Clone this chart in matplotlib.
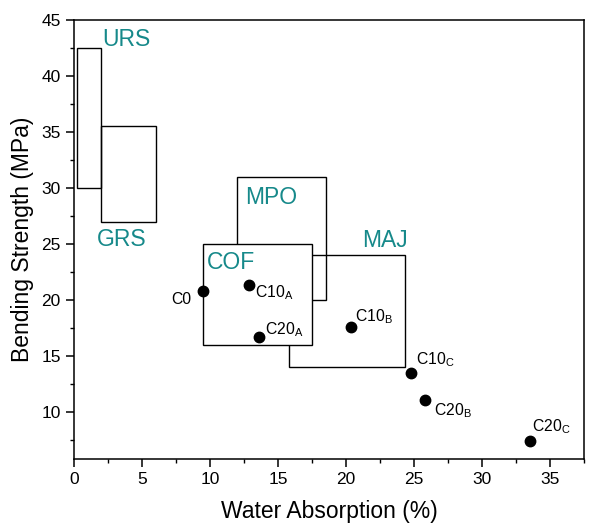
import matplotlib
matplotlib.use('Agg')
import matplotlib.pyplot as plt
from matplotlib.patches import Rectangle
from matplotlib.ticker import MultipleLocator

plt.rcParams['font.family'] = ['Liberation Sans', 'DejaVu Sans']
plt.rcParams['mathtext.fontset'] = 'custom'
plt.rcParams['mathtext.rm'] = 'Liberation Sans'

# Composite samples: water absorption (%) vs bending strength (MPa)
sample_names = ['C0', r'C10$_\mathregular{A}$', r'C20$_\mathregular{A}$', r'C10$_\mathregular{B}$',
                r'C10$_\mathregular{C}$', r'C20$_\mathregular{B}$', r'C20$_\mathregular{C}$']
water_abs = [9.5, 12.9, 13.6, 20.4, 24.75, 25.8, 33.5]
bend_str = [20.8, 21.3, 16.7, 17.6, 13.5, 11.1, 7.4]

# Reference material ranges: (x_min, x_max) and (y_min, y_max)
ref_names = ['URS', 'GRS', 'MPO', 'MAJ', 'COF']
ref_wa = [(0.25, 2.0), (2.0, 6.0), (12.0, 18.5), (15.8, 24.3), (9.5, 17.5)]
ref_bs = [(30.0, 42.5), (27.0, 35.5), (20.0, 31.0), (14.0, 24.0), (16.0, 25.0)]

# where each range label sits (left, baseline), and label offsets for the samples (points)
ref_label_pos = [(2.1, 42.7), (1.65, 24.8), (12.6, 28.6), (21.2, 24.7), (9.8, 22.8)]
sample_offsets = [(-8.4, -9.1), (4.3, -8.9), (4.1, 2.2), (2.9, 4.3), (3.8, 6.0), (6.3, -11.3), (1.7, 7.0)]

teal = '#16898a'

fig = plt.figure(figsize=(5.89, 5.31), dpi=100)
ax = fig.add_axes([0.1256, 0.1356, 0.866, 0.8267])

for name, (x0, x1), (y0, y1), (tx, ty) in zip(ref_names, ref_wa, ref_bs, ref_label_pos):
    filled = name == 'COF'   # COF box sits on top and hides the lines behind it
    ax.add_patch(Rectangle((x0, y0), x1 - x0, y1 - y0, fill=filled, facecolor='white',
                           edgecolor='black', linewidth=1.0, zorder=3 if filled else 2))
    ax.text(tx, ty, name, color=teal, fontsize=16.5, zorder=4)

ax.plot(water_abs, bend_str, 'o', color='black', markersize=7.5, zorder=5)
for name, x, y, (dx, dy) in zip(sample_names, water_abs, bend_str, sample_offsets):
    ax.annotate(name, (x, y), xytext=(dx, dy), textcoords='offset points',
                ha='right' if dx < 0 else 'left', va='baseline', fontsize=11.3, zorder=6)

ax.set_xlim(0, 37.5)
ax.set_ylim(5.8, 45)
ax.xaxis.set_major_locator(MultipleLocator(5))
ax.xaxis.set_minor_locator(MultipleLocator(2.5))
ax.yaxis.set_major_locator(MultipleLocator(5))
ax.yaxis.set_minor_locator(MultipleLocator(2.5))
ax.set_yticks([10, 15, 20, 25, 30, 35, 40, 45])
ax.tick_params(which='major', direction='out', length=6, width=1.1, labelsize=12.5)
ax.tick_params(which='minor', direction='out', length=3, width=1.0)
ax.tick_params(top=False, right=False, which='both')
for sp in ax.spines.values():
    sp.set_linewidth(1.1)

ax.set_xlabel('Water Absorption (%)', fontsize=16.5, labelpad=9)
ax.set_ylabel('Bending Strength (MPa)', fontsize=16.5, labelpad=5)

fig.savefig('out.png', dpi=100)
